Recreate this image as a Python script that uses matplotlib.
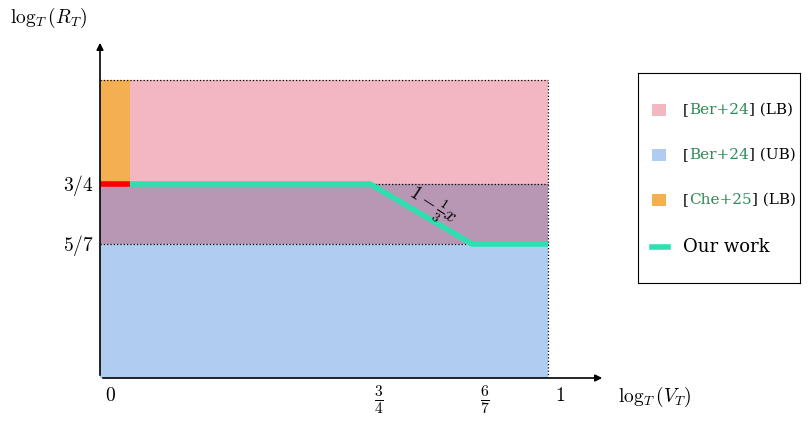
import numpy as np
import matplotlib
matplotlib.use("Agg")
import matplotlib.pyplot as plt
from matplotlib.patches import Rectangle

plt.rcParams['mathtext.fontset'] = 'cm'
plt.rcParams['font.family'] = ['DejaVu Serif']

# data
y_lb = 5 / 7          # [Ber+24] LB from here up
y_ub = 3 / 4          # [Ber+24] UB up to here
x_che = 0.083         # width of [Che+25] strip
work_x = [x_che, 3 / 4, 6 / 7, 1]
work_y = [3 / 4, 3 / 4, 5 / 7, 5 / 7]

# schematic (non-linear) axes, piecewise mapping
xp = [-10, 0, 3 / 4, 6 / 7, 1, 10]
xq = [-10, 0, 270 / 448, 372 / 448, 1, 10]
yp = [-10, 0, 5 / 7, 3 / 4, 1, 10]
yq = [-10, 0, 134 / 298, 194 / 298, 1, 10]

fig = plt.figure(figsize=(8.11, 4.37), dpi=100)
ax = fig.add_axes([100 / 811, 59 / 437, 505 / 811, 338 / 437])
ax.set_xscale('function', functions=(lambda v: np.interp(v, xp, xq), lambda v: np.interp(v, xq, xp)))
ax.set_yscale('function', functions=(lambda v: np.interp(v, yp, yq), lambda v: np.interp(v, yq, yp)))
ax.set_xlim(0, np.interp(1 + 57 / 448, xq, xp))
ax.set_ylim(0, np.interp(1 + 40 / 298, yq, yp))
for s in ax.spines.values():
    s.set_visible(False)
ax.set_xticks([]); ax.set_yticks([])

ax.add_patch(Rectangle((0, y_ub), 1, 1 - y_ub, color='#f2b7c0', lw=0))
ax.add_patch(Rectangle((0, y_lb), 1, y_ub - y_lb, color='#b797b4', lw=0))
ax.add_patch(Rectangle((0, 0), 1, y_lb, color='#b0cdf1', lw=0))
ax.add_patch(Rectangle((0, y_ub), x_che, 1 - y_ub, color='#f4b050', lw=0))

for yy in [1, y_ub, y_lb]:
    ax.plot([0, 1], [yy, yy], ':', color='black', lw=0.9)
ax.plot([1, 1], [0, 1], ':', color='black', lw=0.9)

ax.plot([0, x_che], [y_ub, y_ub], color='red', lw=4, solid_capstyle='butt')
ax.plot(work_x, work_y, color='#2edfb0', lw=4, solid_capstyle='butt')
ax.text(0.815, 0.737, r'$1-\frac{1}{3}x$', rotation=-33, fontsize=14, ha='center', va='center')

ax.annotate('', xy=(1, 0), xytext=(0, 0), xycoords='axes fraction',
            arrowprops=dict(arrowstyle='-|>', color='black', lw=1.2))
ax.annotate('', xy=(0, 1), xytext=(0, 0), xycoords='axes fraction',
            arrowprops=dict(arrowstyle='-|>', color='black', lw=1.2))

fs = 14
fig.text(110 / 811, 1 - 396 / 437, r'$0$', fontsize=fs, ha='center', va='center')
fig.text(560 / 811, 1 - 396 / 437, r'$1$', fontsize=fs, ha='center', va='center')
fig.text(379 / 811, 1 - 400 / 437, r'$\frac{3}{4}$', fontsize=fs + 2, ha='center', va='center')
fig.text(485 / 811, 1 - 400 / 437, r'$\frac{6}{7}$', fontsize=fs + 2, ha='center', va='center')
fig.text(655 / 811, 1 - 397 / 437, r'$\log_T(V_T)$', fontsize=fs, ha='center', va='center')
fig.text(78 / 811, 1 - 185 / 437, r'$3/4$', fontsize=fs, ha='center', va='center')
fig.text(78 / 811, 1 - 245 / 437, r'$5/7$', fontsize=fs, ha='center', va='center')
fig.text(48 / 811, 1 - 18 / 437, r'$\log_T(R_T)$', fontsize=fs, ha='center', va='center')

# legend
lax = fig.add_axes([638 / 811, 1 - 283 / 437, 162 / 811, 210 / 437])
lax.set_xlim(0, 162); lax.set_ylim(210, 0)
lax.set_xticks([]); lax.set_yticks([])
green = '#2e8b57'
entries = [('#f2b7c0', 'Ber+24', ' (LB)'), ('#b0cdf1', 'Ber+24', ' (UB)'),
           ('#f4b050', 'Che+25', ' (LB)')]
fig.canvas.draw()
r = fig.canvas.get_renderer()
inv = lax.transData.inverted()
for i, (c, ref, tag) in enumerate(entries):
    y = 37 + 45 * i
    lax.add_patch(Rectangle((14, y - 6), 14, 12, color=c, lw=0))
    x = 45
    for txt, col in [('[', 'black'), (ref, green), (']' + tag, 'black')]:
        t = lax.text(x, y, txt, fontsize=11, va='center', color=col)
        bb = t.get_window_extent(r)
        x = inv.transform((bb.x1, bb.y0))[0]
lax.plot([14, 30], [174, 174], color='#2edfb0', lw=4)
lax.text(45, 174, 'Our work', fontsize=13, va='center')

fig.savefig('out.png', dpi=100)
